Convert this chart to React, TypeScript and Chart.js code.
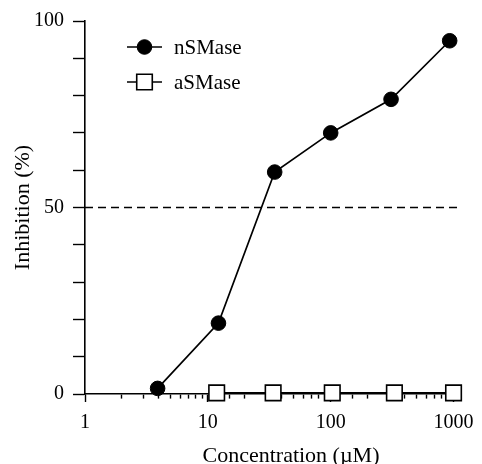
import React, { useEffect, useRef } from 'react';
import { Chart, registerables } from 'chart.js';

Chart.register(...registerables);

// Data
const concN = [3.9, 12.2, 35, 100, 310, 930];
const nSMase = [1.5, 19, 59.5, 70, 79, 94.7];
const concA = [11.8, 34, 103, 330, 1000];
const aSMase = [0.3, 0.3, 0.3, 0.3, 0.3];
const halfX = [1, 1090];
const halfY = [50, 50];
const xTickLabels = [1, 10, 100, 1000];
const yTickLabels = [0, 50, 100];
const legendOrder = ['nSMase', 'aSMase'];

const FONT = 'Liberation Serif, "Times New Roman", serif';

const isPow10 = (v: number) => {
  const l = Math.log10(v);
  return Math.abs(l - Math.round(l)) < 1e-9;
};

const lineLegend = {
  id: 'lineLegend',
  afterDraw(chart: any) {
    const { ctx, chartArea } = chart;
    const items = legendOrder
      .map((name) => chart.data.datasets.find((d: any) => d.label === name))
      .filter(Boolean);
    ctx.save();
    items.forEach((ds: any, i: number) => {
      const y = chartArea.top + 26 + i * 35;
      const x0 = chartArea.left + 42;
      const x1 = chartArea.left + 77;
      const xm = (x0 + x1) / 2;
      ctx.strokeStyle = ds.borderColor;
      ctx.lineWidth = ds.borderWidth;
      ctx.setLineDash([]);
      ctx.beginPath();
      ctx.moveTo(x0, y);
      ctx.lineTo(x1, y);
      ctx.stroke();
      ctx.fillStyle = ds.pointBackgroundColor;
      ctx.strokeStyle = ds.pointBorderColor;
      ctx.lineWidth = ds.pointBorderWidth;
      ctx.beginPath();
      if (ds.pointStyle === 'rect') {
        const s = Math.SQRT1_2 * ds.pointRadius;
        ctx.rect(xm - s, y - s, 2 * s, 2 * s);
      } else {
        ctx.arc(xm, y, ds.pointRadius, 0, Math.PI * 2);
      }
      ctx.fill();
      ctx.stroke();
      ctx.fillStyle = '#000';
      ctx.font = `21px ${FONT}`;
      ctx.textAlign = 'left';
      ctx.textBaseline = 'middle';
      ctx.fillText(ds.label, chartArea.left + 89, y + 1);
    });
    ctx.restore();
  },
};

const xTitle = {
  id: 'xTitle',
  afterDraw(chart: any) {
    const { ctx, chartArea } = chart;
    ctx.save();
    ctx.fillStyle = '#000';
    ctx.font = `22px ${FONT}`;
    ctx.textAlign = 'center';
    ctx.textBaseline = 'alphabetic';
    ctx.fillText('Concentration (\u00B5M)', (chartArea.left + chartArea.right) / 2 + 18, 462);
    ctx.restore();
  },
};

export default function App() {
  const ref = useRef<HTMLCanvasElement | null>(null);

  useEffect(() => {
    if (!ref.current) return;
    const chart = new Chart(ref.current, {
      type: 'line',
      data: {
        datasets: [
          {
            label: '',
            data: halfX.map((x, i) => ({ x, y: halfY[i] })),
            borderColor: '#000',
            borderWidth: 1.3,
            borderDash: [8, 5],
            pointRadius: 0,
            pointHoverRadius: 0,
            clip: false,
          },
          {
            label: 'aSMase',
            data: concA.map((x, i) => ({ x, y: aSMase[i] })),
            borderColor: '#000',
            borderWidth: 1.7,
            pointStyle: 'rect',
            pointRadius: 11,
            pointBackgroundColor: '#fff',
            pointBorderColor: '#000',
            pointBorderWidth: 1.6,
            clip: false,
          },
          {
            label: 'nSMase',
            data: concN.map((x, i) => ({ x, y: nSMase[i] })),
            borderColor: '#000',
            borderWidth: 1.7,
            pointStyle: 'circle',
            pointRadius: 7.3,
            pointBackgroundColor: '#000',
            pointBorderColor: '#000',
            pointBorderWidth: 1,
            clip: false,
          },
        ] as any,
      },
      options: {
        animation: false,
        responsive: false,
        events: [],
        layout: { padding: { top: 19, right: 21, bottom: 0, left: 0 } },
        plugins: {
          legend: { display: false },
          tooltip: { enabled: false },
        },
        scales: {
          x: {
            type: 'logarithmic',
            min: 1,
            max: 1150,
            border: { display: true, color: '#000', width: 1.6 },
            grid: {
              display: true,
              drawOnChartArea: false,
              drawTicks: true,
              tickLength: 8,
              tickWidth: 1.4,
              tickColor: (c: any) => (c.tick && c.tick.value <= 1000 ? '#000' : 'rgba(0,0,0,0)'),
              tickBorderDash: (c: any) => (c.tick && isPow10(c.tick.value) ? [] : [4, 30]),
            } as any,
            ticks: {
              autoSkip: false,
              maxRotation: 0,
              padding: 9,
              color: '#000',
              font: { family: FONT, size: 20 },
              callback: (v: any) => (xTickLabels.includes(Number(v)) ? String(v) : ''),
            },
            afterFit: (s: any) => {
              s.height = 70;
            },
          },
          y: {
            type: 'linear',
            min: 0,
            max: 100,
            border: { display: true, color: '#000', width: 1.6 },
            grid: {
              display: true,
              drawOnChartArea: false,
              drawTicks: true,
              tickLength: 12,
              tickWidth: 1.4,
              tickColor: '#000',
            },
            ticks: {
              stepSize: 10,
              padding: 9,
              color: '#000',
              font: { family: FONT, size: 20 },
              callback: (v: any) => (yTickLabels.includes(Number(v)) ? String(v) : ''),
            },
            title: {
              display: true,
              text: 'Inhibition (%)',
              color: '#000',
              font: { family: FONT, size: 22 },
              padding: { top: 10, bottom: 0 },
            },
            afterFit: (s: any) => {
              s.width = 85;
            },
          },
        },
      },
      plugins: [lineLegend, xTitle],
    });
    return () => chart.destroy();
  }, []);

  return (
    <div style={{ position: 'absolute', left: 0, top: 0, width: 482, height: 464, background: '#fff' }}>
      <canvas ref={ref} width={482} height={464} style={{ display: 'block' }} />
    </div>
  );
}
